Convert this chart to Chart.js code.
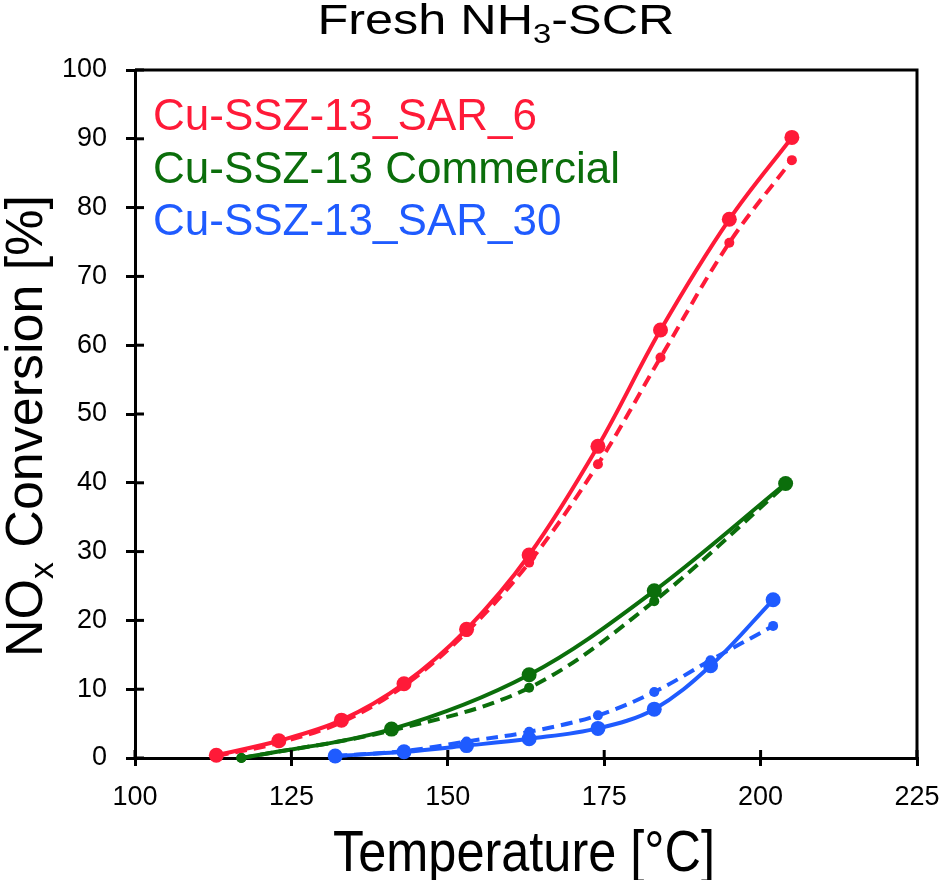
<!DOCTYPE html>
<html>
<head>
<meta charset="utf-8">
<script src="https://cdn.jsdelivr.net/npm/chart.js@4.4.1/dist/chart.umd.min.js"></script>
<style>
  html, body { margin: 0; padding: 0; background: #fff; }
  #wrap { width: 945px; height: 880px; }
</style>
</head>
<body>
<div id="wrap"><canvas id="chart" width="945" height="880"></canvas></div>
<script>
// data
const redT = [113, 123, 133, 143, 153, 163, 174, 184, 195, 205];
const redSolid = [0.4, 2.5, 5.5, 10.8, 18.7, 29.5, 45.3, 62.2, 78.3, 90.2];
const redDash = [0.3, 2.2, 5.2, 10.5, 18.3, 28.4, 42.7, 58.2, 74.9, 86.9];

const greenT = [117, 141, 163, 183, 204];
const greenSolid = [0, 4.2, 12.1, 24.3, 39.9];
const greenDash = [0, 4.0, 10.2, 22.8, 39.7];

const blueT = [132, 143, 153, 163, 174, 183, 192, 202];
const blueSolid = [0.3, 0.9, 1.8, 2.8, 4.3, 7.1, 13.4, 23.0];
const blueDash = [0.3, 1.0, 2.4, 3.8, 6.2, 9.6, 14.2, 19.2];

const xTicks = [100, 125, 150, 175, 200, 225];
const yTicks = [0, 10, 20, 30, 40, 50, 60, 70, 80, 90, 100];

const seriesNames = ["Cu-SSZ-13_SAR_6", "Cu-SSZ-13 Commercial", "Cu-SSZ-13_SAR_30"];

const RED = "#ff1a38";
const GREEN = "#0b6e0b";
const BLUE = "#1f5bff";
const FONT = "'Liberation Sans', Arial, sans-serif";

const pts = (xs, ys) => xs.map((x, i) => ({ x: x, y: ys[i] }));

const solid = (label, color, xs, ys, radius) => ({
    label: label,
    data: pts(xs, ys),
    borderColor: color,
    backgroundColor: color,
    borderWidth: 4,
    pointRadius: radius || 7.5,
    pointHoverRadius: 7.5,
    pointBorderWidth: 0,
    tension: 0.35,
    clip: false,
    order: 1
});

const dashed = (label, color, xs, ys) => ({
    label: label + " (dashed)",
    data: pts(xs, ys),
    borderColor: color,
    backgroundColor: color,
    borderWidth: 4,
    borderDash: [12, 7],
    pointRadius: 5,
    pointHoverRadius: 5,
    pointBorderWidth: 0,
    tension: 0.35,
    clip: false,
    order: 2
});

// text with subscripts, optionally rotated / stretched
function drawRich(ctx, parts, x, y, size, rot, sx) {
    ctx.save();
    ctx.translate(x, y);
    ctx.rotate(rot || 0);
    ctx.scale(sx || 1, 1);
    ctx.fillStyle = "#000";
    ctx.textBaseline = "alphabetic";
    ctx.textAlign = "left";
    let w = 0;
    parts.forEach(p => {
        ctx.font = (p.sub ? size * 0.65 : size) + "px " + FONT;
        w += ctx.measureText(p.t).width;
    });
    let cx = -w / 2;
    parts.forEach(p => {
        ctx.font = (p.sub ? size * 0.65 : size) + "px " + FONT;
        ctx.fillText(p.t, cx, p.sub ? size * 0.22 : 0);
        cx += ctx.measureText(p.t).width;
    });
    ctx.restore();
}

const decorations = {
    id: "decorations",
    afterDraw(chart) {
        const ctx = chart.ctx;
        const area = chart.chartArea;
        const xs = chart.scales.x;
        const ys = chart.scales.y;

        // frame on top and right
        ctx.save();
        ctx.strokeStyle = "#000";
        ctx.lineWidth = 3;
        ctx.beginPath();
        ctx.moveTo(area.left, area.top);
        ctx.lineTo(area.right, area.top);
        ctx.lineTo(area.right, area.bottom);
        ctx.stroke();

        // inner half of the tick marks
        ys.ticks.forEach(t => {
            const py = ys.getPixelForValue(t.value);
            ctx.beginPath();
            ctx.moveTo(area.left, py);
            ctx.lineTo(area.left + 9, py);
            ctx.stroke();
        });
        xs.ticks.forEach(t => {
            const px = xs.getPixelForValue(t.value);
            ctx.beginPath();
            ctx.moveTo(px, area.bottom);
            ctx.lineTo(px, area.bottom - 8);
            ctx.stroke();
        });
        ctx.restore();

        // legend text inside the plot
        ctx.save();
        ctx.font = "44px " + FONT;
        ctx.textBaseline = "alphabetic";
        ctx.textAlign = "left";
        [RED, GREEN, BLUE].forEach((c, i) => {
            ctx.fillStyle = c;
            ctx.fillText(seriesNames[i], 153, 130 + i * 52.5);
        });
        ctx.restore();

        // titles
        drawRich(ctx, [{ t: "Fresh NH" }, { t: "3", sub: true }, { t: "-SCR" }], 496, 34, 42, 0, 1.2);
        drawRich(ctx, [{ t: "Temperature [°C]" }], 524, 871, 58, 0, 0.87);
        drawRich(ctx, [{ t: "NO" }, { t: "x", sub: true }, { t: " Conversion [%]" }], 42, 426, 52, -Math.PI / 2, 1);
    }
};

new Chart(document.getElementById("chart"), {
    type: "line",
    data: {
        datasets: [
            solid(seriesNames[0], RED, redT, redSolid),
            dashed(seriesNames[0], RED, redT, redDash),
            solid(seriesNames[1], GREEN, greenT, greenSolid, [5, 7.5, 7.5, 7.5, 7.5]),
            dashed(seriesNames[1], GREEN, greenT, greenDash),
            solid(seriesNames[2], BLUE, blueT, blueSolid),
            dashed(seriesNames[2], BLUE, blueT, blueDash)
        ]
    },
    options: {
        responsive: false,
        animation: false,
        layout: { padding: { left: 0, top: 70, right: 28, bottom: 0 } },
        plugins: {
            legend: { display: false },
            title: { display: false },
            tooltip: { enabled: false }
        },
        scales: {
            x: {
                type: "linear",
                min: 100,
                max: 225,
                afterBuildTicks: s => { s.ticks = xTicks.map(v => ({ value: v })); },
                afterFit: s => { s.height = 122; s.paddingLeft = 0; s.paddingRight = 0; },
                grid: { drawOnChartArea: false, drawTicks: true, tickLength: 8, color: "#000", lineWidth: 3 },
                border: { display: true, color: "#000", width: 3 },
                ticks: { color: "#000", font: { family: FONT, size: 27 }, padding: 15, maxRotation: 0 }
            },
            y: {
                min: 0,
                max: 100,
                afterBuildTicks: s => { s.ticks = yTicks.map(v => ({ value: v })); },
                afterFit: s => { s.width = 135; s.paddingTop = 0; s.paddingBottom = 0; },
                grid: { drawOnChartArea: false, drawTicks: true, tickLength: 9, color: "#000", lineWidth: 3 },
                border: { display: true, color: "#000", width: 3 },
                ticks: { color: "#000", font: { family: FONT, size: 27 }, padding: 19 }
            }
        }
    },
    plugins: [decorations]
});
</script>
</body>
</html>
